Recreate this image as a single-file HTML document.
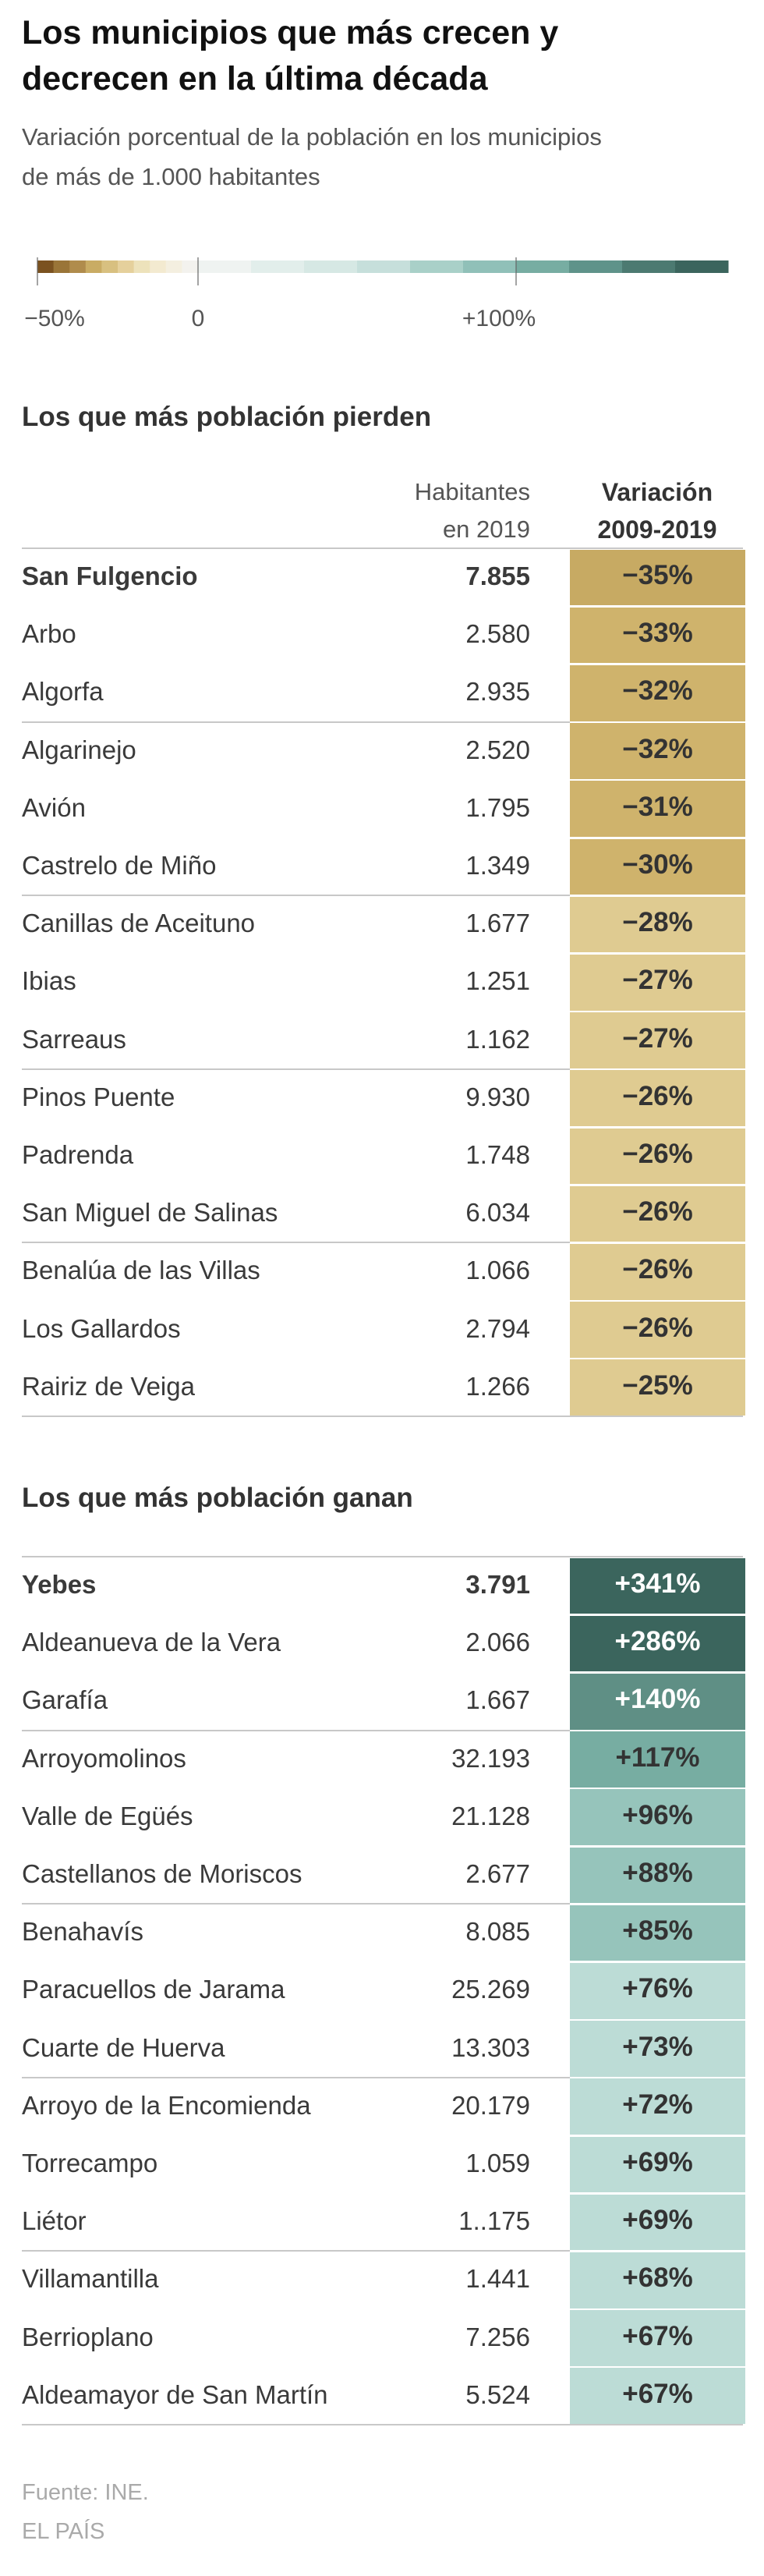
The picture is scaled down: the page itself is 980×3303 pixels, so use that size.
<!DOCTYPE html>
<html><head><meta charset="utf-8"><style>
body{margin:0;width:980px;height:3303px;background:#fff;position:relative;overflow:hidden;font-family:"Liberation Sans",sans-serif;color:#333}
.a{position:absolute;white-space:nowrap}
</style></head><body>
<div class="a" style="left:28px;top:13px;font-size:43px;font-weight:bold;line-height:59px;color:#111">Los municipios que más crecen y<br>decrecen en la última década</div>
<div class="a" style="left:28px;top:150px;font-size:31px;line-height:51px;color:#555">Variación porcentual de la población en los municipios<br>de más de 1.000 habitantes</div>
<svg id="legend" class="a" style="left:0;top:320px" width="980" height="110"></svg>
<div id="tables"></div>
<div class="a" style="left:28px;top:3180px;font-size:29px;color:#aaa">Fuente: INE.</div>
<div class="a" style="left:28px;top:3230px;font-size:29px;color:#aaa">EL PAÍS</div>
<script>
const legendNegColors=["#7b5220","#9a7538","#b08c4c","#c9ac64","#d8c080","#e5d09c","#ede2bb","#f3ead0","#f4efe0","#f3f2ee"];
const legendPosColors=["#eff3f1","#e2eeeb","#d6e8e4","#c6dfdb","#a9d0c8","#90c0b8","#77ada2","#5f938a","#4c7a71","#3b655d"];
const legendTicks=[-50,0,100];
const legendTickLabels=["−50%","0","+100%"];
const lossNames=["San Fulgencio","Arbo","Algorfa","Algarinejo","Avión","Castrelo de Miño","Canillas de Aceituno","Ibias","Sarreaus","Pinos Puente","Padrenda","San Miguel de Salinas","Benalúa de las Villas","Los Gallardos","Rairiz de Veiga"];
const lossPop=["7.855","2.580","2.935","2.520","1.795","1.349","1.677","1.251","1.162","9.930","1.748","6.034","1.066","2.794","1.266"];
const lossPct=[-35,-33,-32,-32,-31,-30,-28,-27,-27,-26,-26,-26,-26,-26,-25];
const gainNames=["Yebes","Aldeanueva de la Vera","Garafía","Arroyomolinos","Valle de Egüés","Castellanos de Moriscos","Benahavís","Paracuellos de Jarama","Cuarte de Huerva","Arroyo de la Encomienda","Torrecampo","Liétor","Villamantilla","Berrioplano","Aldeamayor de San Martín"];
const gainPop=["3.791","2.066","1.667","32.193","21.128","2.677","8.085","25.269","13.303","20.179","1.059","1..175","1.441","7.256","5.524"];
const gainPct=[341,286,140,117,96,88,85,76,73,72,69,69,68,67,67];

// legend scale: -50..0 over 48..254, 0..100 over 254..662 (10 positive steps of 100/6 %)
const POS_STEP=100/6;
function lx(v){return v<=0?254+v*(206/50):254+v*(408/100);}
const NS="http://www.w3.org/2000/svg";
const lg=document.getElementById('legend');
legendNegColors.forEach((c,i)=>{const r=document.createElementNS(NS,'rect');


const x0=lx(-50+i*5),x1=lx(-45+i*5);r.setAttribute('x',x0);r.setAttribute('width',x1-x0+0.5);r.setAttribute('y',14);r.setAttribute('height',16);r.setAttribute('fill',c);lg.appendChild(r);});
legendPosColors.forEach((c,i)=>{const r=document.createElementNS(NS,'rect');


const x0=lx(i*POS_STEP),x1=lx((i+1)*POS_STEP);r.setAttribute('x',x0);r.setAttribute('width',x1-x0+0.5);r.setAttribute('y',14);r.setAttribute('height',16);r.setAttribute('fill',c);lg.appendChild(r);});
legendTicks.forEach((t,i)=>{const l=document.createElementNS(NS,'line');


l.setAttribute('x1',lx(t));l.setAttribute('x2',lx(t));l.setAttribute('y1',10);l.setAttribute('y2',46);l.setAttribute('stroke','#666');l.setAttribute('stroke-width',1.2);lg.appendChild(l);
const tx=document.createElementNS(NS,'text');


const off=i==0?22:(i==2?-22:0);
tx.setAttribute('x',lx(t)+off);tx.setAttribute('y',98);tx.setAttribute('text-anchor','middle');tx.setAttribute('font-size','30');tx.setAttribute('fill','#555');tx.setAttribute('font-family','Liberation Sans, sans-serif');tx.textContent=legendTickLabels[i];lg.appendChild(tx);});

function cellColor(v){
 if(v<0){ if(v<=-35) return "#c7aa63"; if(v<=-30) return "#cfb36c"; return "#dfcb91"; }
 if(v>=200) return "#3b655d"; if(v>=120) return "#5f8f85"; if(v>=100) return "#77ada2"; if(v>=80) return "#96c4bb"; return "#bcdcd6";
}
const T=document.getElementById('tables');
function el(style,text,name){const d=document.createElement('div');d.className='a';d.style.cssText=style;if(text!=null)d.textContent=text;


T.appendChild(d);return d;}
const RH=74.2;
function table(title,titleTop,top,names,pops,pcts,header){
 el('left:28px;top:'+titleTop+'px;font-size:35px;font-weight:bold;color:#333',title,'section-heading');
 if(header){
  const h=el('right:300px;top:'+(top-96)+'px;font-size:31px;line-height:48px;color:#555;text-align:right',null,'column-header-population');h.innerHTML='Habitantes<br>en 2019';
  const v=el('left:733px;width:220px;top:'+(top-96)+'px;font-size:32px;line-height:48px;font-weight:bold;color:#333;text-align:center',null,'column-header-variation');v.innerHTML='Variación<br>2009-2019';
 }
 el('left:28px;top:'+(top-1)+'px;width:925px;height:2px;background:#c8c8c8',null,'table-top-rule');
 names.forEach((n,i)=>{
  const y=top+i*RH; const bold=i==0?'font-weight:bold;':'';
  el('left:731px;top:'+(y+1.5)+'px;width:225px;height:'+(RH-2.5)+'px;background:'+cellColor(pcts[i]),null,'variation-cell');
  el('left:28px;top:'+(y+17)+'px;font-size:33px;color:#3a3a3a;'+bold,n,'municipality-name');
  el('right:300px;top:'+(y+17)+'px;font-size:33px;color:#3a3a3a;text-align:right;'+bold,pops[i],'population-value');
  const txt=(pcts[i]<0?'−'+Math.abs(pcts[i]):'+'+pcts[i])+'%';
  el('left:731px;width:225px;text-align:center;top:'+(y+15)+'px;font-size:35px;font-weight:bold;color:'+(pcts[i]>=120?'#fff':'#333'),txt,'variation-value');
  if(i%3==2&&i<names.length-1) el('left:28px;top:'+(y+RH-1)+'px;width:703px;height:2px;background:#c8c8c8',null,'group-separator');
 });
 el('left:28px;top:'+(top+names.length*RH-1)+'px;width:925px;height:2px;background:#c8c8c8',null,'table-bottom-rule');
}
table('Los que más población pierden',515,703,lossNames,lossPop,lossPct,true);
table('Los que más población ganan',1901,1996,gainNames,gainPop,gainPct,false);
</script>
</body></html>
